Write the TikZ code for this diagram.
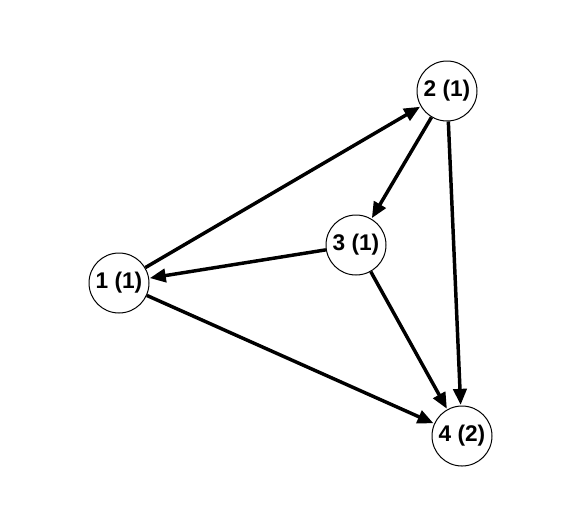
\documentclass[tikz,border=0pt]{standalone}
\usepackage{fontspec}
\setmainfont{Liberation Sans}
\usetikzlibrary{arrows.meta}
\begin{document}
\begin{tikzpicture}[x=0.75pt,y=-0.75pt,
  vertex/.style={circle,draw=black,line width=0.75pt,fill=white,minimum size=45pt,inner sep=0pt,font=\fontsize{17}{19}\selectfont\bfseries},
  edge/.style={line width=2.6pt,-{Triangle[length=12pt,width=10pt]},shorten >=0.5pt}]
\useasboundingbox (0,0) rectangle (581,526);
\node[vertex] (n1) at (119,283) {1 (1)};
\node[vertex] (n2) at (447,91) {2 (1)};
\node[vertex] (n3) at (356,245) {3 (1)};
\node[vertex] (n4) at (462,436) {4 (2)};
\draw[edge] (n1) -- (n2);
\draw[edge] (n2) -- (n3);
\draw[edge] (n3) -- (n1);
\draw[edge] (n2) -- (n4);
\draw[edge] (n3) -- (n4);
\draw[edge] (n1) -- (n4);
\end{tikzpicture}
\end{document}
